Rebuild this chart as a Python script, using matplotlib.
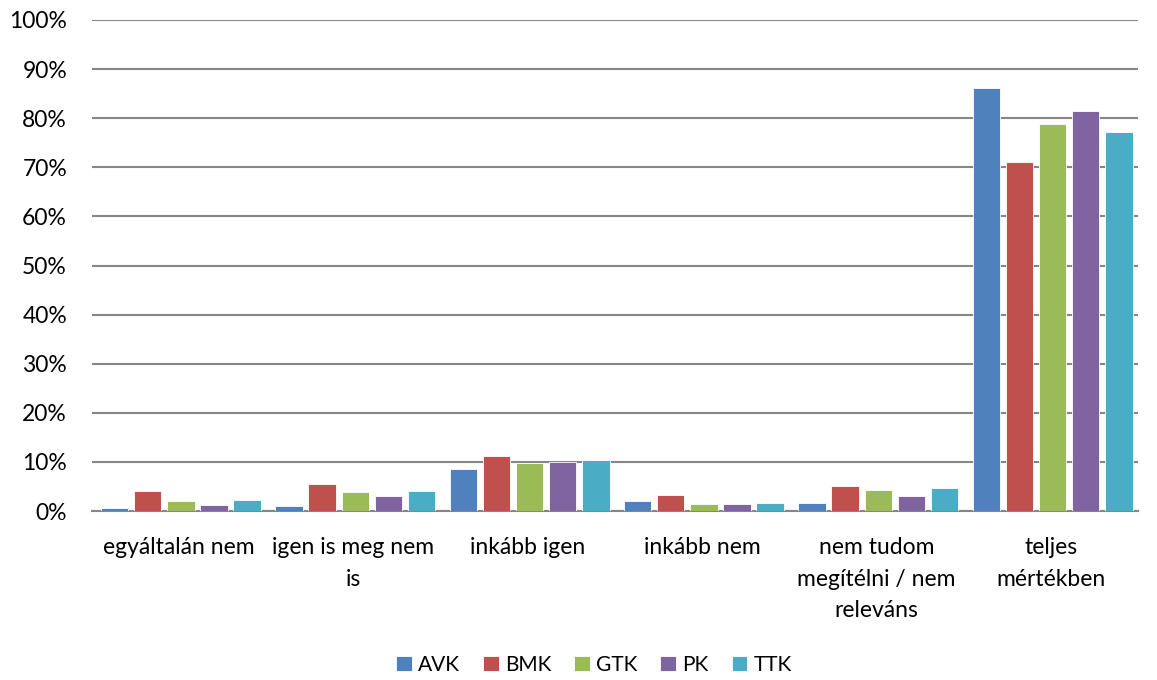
import matplotlib
matplotlib.use("Agg")
import matplotlib.pyplot as plt
import numpy as np
from matplotlib.ticker import FuncFormatter, MultipleLocator

plt.rcParams['font.family'] = ['Lato', 'DejaVu Sans']

categories = ["egyáltalán nem", "igen is meg nem\nis", "inkább igen", "inkább nem",
              "nem tudom\nmegítélni / nem\nreleváns", "teljes\nmértékben"]
series_names = ["AVK", "BMK", "GTK", "PK", "TTK"]
AVK = [0.7, 1.1, 8.5, 2.1, 1.7, 86.1]
BMK = [4.0, 5.5, 11.3, 3.2, 5.1, 71.1]
GTK = [2.1, 3.8, 9.8, 1.5, 4.2, 78.9]
PK = [1.3, 3.0, 10.0, 1.5, 3.0, 81.4]
TTK = [2.3, 4.0, 10.3, 1.7, 4.7, 77.1]
series = [AVK, BMK, GTK, PK, TTK]
colors = ["#4F81BD", "#C0504D", "#9BBB59", "#8064A2", "#4BACC6"]

fig = plt.figure(figsize=(11.57, 6.8), dpi=100)
ax = fig.add_axes([92/1157, 1 - 511/680, 1046/1157, 491/680])

x = np.arange(len(categories))
step = 0.19
width = 0.157
for i, (name, vals, c) in enumerate(zip(series_names, series, colors)):
    ax.bar(x + (i - 2) * step + 0.01, vals, width=width, color=c, label=name,
           edgecolor="white", linewidth=0.6, zorder=3)

ax.set_xlim(-0.5, len(categories) - 0.5)
ax.set_ylim(0, 100)
ax.yaxis.set_major_locator(MultipleLocator(10))
ax.yaxis.set_major_formatter(FuncFormatter(lambda v, p: f"{int(round(v))}%"))
ax.grid(axis="y", color="#868686", linewidth=1.5, zorder=0)
ax.set_axisbelow(True)
for s in ["top", "right", "left"]:
    ax.spines[s].set_visible(False)
ax.spines["bottom"].set_color("#868686")
ax.spines["bottom"].set_linewidth(1.5)
ax.set_xticks(x)
ax.set_xticklabels(categories, fontsize=16.5, linespacing=1.6)
ax.tick_params(axis="x", length=0, pad=19)
ax.tick_params(axis="y", length=0, pad=18, labelsize=16.5)

leg = fig.legend(loc="center", bbox_to_anchor=(594/1157, 1 - 665/680), ncol=5,
                 frameon=False, fontsize=15, handlelength=0.75, handleheight=0.75,
                 handletextpad=0.3, columnspacing=1.1)

fig.savefig("out.png", dpi=100)
